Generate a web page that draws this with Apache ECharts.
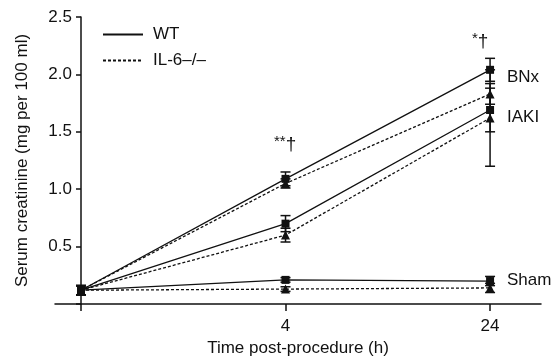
<!DOCTYPE html>
<html><head><meta charset="utf-8">
<script src="https://cdn.jsdelivr.net/npm/echarts@6/dist/echarts.min.js"></script>
<style>html,body{margin:0;padding:0;background:#fff}#c{width:557px;height:357px}</style>
</head><body><div id="c"></div>
<script>
var times = ['0', '4', '24'];
var yTicks = [0.5, 1.0, 1.5, 2.0, 2.5];
var wtBNx = [0.12, 1.09, 2.04];
var wtBNxErr = [0.04, 0.06, 0.10];
var koBNx = [0.12, 1.05, 1.83];
var koBNxErr = [0.04, 0.04, 0.09];
var wtIAKI = [0.12, 0.70, 1.69];
var wtIAKIErr = [0.04, 0.07, 0.19];
var koIAKI = [0.12, 0.60, 1.62];
var koIAKIErr = [0.04, 0.06, 0.42];
var wtSham = [0.12, 0.21, 0.20];
var wtShamErr = [0.04, 0.02, 0.04];
var koSham = [0.12, 0.13, 0.14];
var koShamErr = [0.04, 0.02, 0.04];

var FONT = 'Liberation Sans, Arial, sans-serif';
var FS = 17;
var chart = echarts.init(document.getElementById('c'));

function pts(vals) { return vals.map(function (v, i) { return [i, v]; }); }
function lineSeries(name, vals, dashed, symbol) {
  return {
    name: name, type: 'line', data: pts(vals), symbol: symbol,
    symbolSize: symbol === 'triangle' ? 9 : 8,
    itemStyle: { color: '#111' },
    lineStyle: { color: '#111', width: 1.3, type: dashed ? [3, 2] : 'solid' },
    z: 3, silent: true
  };
}
function errSeries(vals, errs) {
  return {
    type: 'custom', silent: true, z: 2,
    data: vals.map(function (v, i) { return [i, v, errs[i]]; }),
    renderItem: function (params, api) {
      var x = api.value(0), m = api.value(1), e = api.value(2);
      var hi = api.coord([x, m + e]), lo = api.coord([x, m - e]);
      var w = 5;
      var st = { stroke: '#111', lineWidth: 1.5 };
      return { type: 'group', children: [
        { type: 'line', shape: { x1: hi[0], y1: hi[1], x2: lo[0], y2: lo[1] }, style: st },
        { type: 'line', shape: { x1: hi[0] - w, y1: hi[1], x2: hi[0] + w, y2: hi[1] }, style: st },
        { type: 'line', shape: { x1: lo[0] - w, y1: lo[1], x2: lo[0] + w, y2: lo[1] }, style: st }
      ]};
    }
  };
}

var option = {
  animation: false,
  textStyle: { fontFamily: FONT },
  grid: { left: 55, right: 16, top: 17, bottom: 53, containLabel: false, outerBoundsMode: 'none' },
  legend: {
    data: ['WT', 'IL-6–/–'], orient: 'vertical', left: 97, top: 21,
    itemWidth: 40, itemHeight: 14, itemGap: 9,
    itemStyle: { color: 'transparent', borderColor: 'transparent', borderWidth: 0 },
    textStyle: { fontSize: FS, color: '#111', fontFamily: FONT, padding: [0, 0, 0, 5] }
  },
  xAxis: {
    type: 'value', min: -0.127, max: 2.249,
    splitLine: { show: false },
    axisLine: { onZero: false, lineStyle: { color: '#111', width: 1.5 } },
    axisTick: { customValues: [0, 1, 2], length: 7, lineStyle: { color: '#111', width: 1.5 } },
    axisLabel: { customValues: [1, 2], formatter: function (v) { return times[Math.round(v)]; },
      fontSize: FS, color: '#111', margin: 14, fontFamily: FONT },
    name: 'Time post-procedure (h)', nameLocation: 'middle', nameGap: 36, nameMoveOverlap: false,
    nameTextStyle: { fontSize: FS, color: '#111', fontFamily: FONT }
  },
  yAxis: {
    type: 'value', min: 0, max: 2.5, interval: 0.5, offset: -26,
    splitLine: { show: false },
    axisLine: { show: true, onZero: false, lineStyle: { color: '#111', width: 1.5 } },
    axisTick: { show: true, length: 5, lineStyle: { color: '#111', width: 1.5 } },
    axisLabel: { fontSize: FS, color: '#111', margin: 9, fontFamily: FONT,
      formatter: function (v) { return yTicks.indexOf(+v.toFixed(1)) >= 0 ? v.toFixed(1) : ''; } },
    name: 'Serum creatinine (mg per 100 ml)', nameLocation: 'middle', nameGap: 50, nameRotate: 90, nameMoveOverlap: false,
    nameTextStyle: { fontSize: FS, color: '#111', fontFamily: FONT }
  },
  graphic: [
    { type: 'text', left: 274, top: 134, style: { text: '{a|**}{b|†}', rich: { a: { fontSize: 15, fontFamily: FONT, fill: '#111', padding: [0, 0, 6, 0] }, b: { fontSize: 19, fontFamily: FONT, fill: '#111' } } } },
    { type: 'text', left: 472, top: 31, style: { text: '{a|*}{b|†}', rich: { a: { fontSize: 15, fontFamily: FONT, fill: '#111', padding: [0, 0, 6, 0] }, b: { fontSize: 19, fontFamily: FONT, fill: '#111' } } } },
    { type: 'text', left: 507, top: 69, style: { text: 'BNx', font: FS + 'px ' + FONT, fill: '#111' } },
    { type: 'text', left: 507, top: 109, style: { text: 'IAKI', font: FS + 'px ' + FONT, fill: '#111' } },
    { type: 'text', left: 507, top: 272, style: { text: 'Sham', font: FS + 'px ' + FONT, fill: '#111' } }
  ],
  series: [
    { name: 'WT', type: 'line', data: [], symbol: 'none', lineStyle: { color: '#111', width: 1.5 }, itemStyle: { color: '#111' } },
    { name: 'IL-6–/–', type: 'line', data: [], symbol: 'none', lineStyle: { color: '#111', width: 1.5, type: [3, 2] }, itemStyle: { color: '#111' } },
    errSeries(wtBNx, wtBNxErr), errSeries(koBNx, koBNxErr),
    errSeries(wtIAKI, wtIAKIErr), errSeries(koIAKI, koIAKIErr),
    errSeries(wtSham, wtShamErr), errSeries(koSham, koShamErr),
    lineSeries('WT BNx', wtBNx, false, 'rect'),
    lineSeries('KO BNx', koBNx, true, 'triangle'),
    lineSeries('WT IAKI', wtIAKI, false, 'rect'),
    lineSeries('KO IAKI', koIAKI, true, 'triangle'),
    lineSeries('WT Sham', wtSham, false, 'rect'),
    lineSeries('KO Sham', koSham, true, 'triangle')
  ]
};
chart.setOption(option);
</script></body></html>
